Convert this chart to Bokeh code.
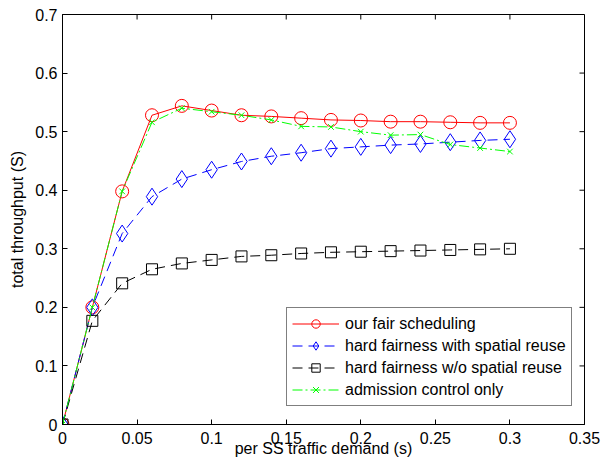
import math
from bokeh.plotting import figure
from bokeh.models import FixedTicker, Range1d, Legend, LegendItem
from bokeh.embed import file_html
from bokeh.resources import INLINE

# ---- data ----
demand = [0, 0.02, 0.04, 0.06, 0.08, 0.10, 0.12, 0.14, 0.16, 0.18,
          0.20, 0.22, 0.24, 0.26, 0.28, 0.30]
fair_sched = [0, 0.200, 0.398, 0.528, 0.544, 0.536, 0.528, 0.526, 0.523,
              0.520, 0.519, 0.517, 0.517, 0.516, 0.515, 0.515]
hard_reuse = [0, 0.200, 0.326, 0.389, 0.419, 0.435, 0.449, 0.458, 0.464,
              0.471, 0.474, 0.477, 0.479, 0.482, 0.485, 0.487]
hard_noreuse = [0, 0.177, 0.241, 0.265, 0.275, 0.281, 0.287, 0.289, 0.292,
                0.294, 0.295, 0.296, 0.297, 0.298, 0.299, 0.300]
admission = [0, 0.200, 0.398, 0.516, 0.540, 0.534, 0.528, 0.520, 0.509,
             0.508, 0.500, 0.494, 0.495, 0.478, 0.472, 0.466]

series_names = ["our fair scheduling", "hard fairness with spatial reuse",
                "hard fairness w/o spatial reuse", "admission control only"]

x_ticks = [0, 0.05, 0.1, 0.15, 0.2, 0.25, 0.3, 0.35]
x_tick_labels = ["0", "0.05", "0.1", "0.15", "0.2", "0.25", "0.3", "0.35"]
y_ticks = [0, 0.1, 0.2, 0.3, 0.4, 0.5, 0.6, 0.7]
y_tick_labels = ["0", "0.1", "0.2", "0.3", "0.4", "0.5", "0.6", "0.7"]

FONT = "Liberation Sans"
FS = "16px"

p = figure(width=604, height=462, output_backend="svg", toolbar_location=None,
           x_range=Range1d(x_ticks[0], x_ticks[-1]),
           y_range=Range1d(y_ticks[0], y_ticks[-1]),
           min_border_left=62, min_border_right=20, min_border_top=14,
           min_border_bottom=38, x_axis_label="per SS traffic demand (s)",
           y_axis_label="total throughput (S)")
p.grid.visible = False
p.outline_line_color = "black"
p.outline_line_width = 1
p.background_fill_color = "white"
p.border_fill_color = "white"


def style_axis(ax, ticks, labels):
    ax.ticker = FixedTicker(ticks=ticks)
    ax.major_label_overrides = {t: l for t, l in zip(ticks, labels)}
    ax.axis_line_color = "black"
    ax.major_tick_line_color = "black"
    ax.major_tick_in = 5
    ax.major_tick_out = 0
    ax.minor_tick_line_color = None
    ax.major_label_text_font = FONT
    ax.major_label_text_font_size = FS
    ax.major_label_text_color = "black"
    ax.axis_label_text_font = FONT
    ax.axis_label_text_font_size = FS
    ax.axis_label_text_font_style = "normal"
    ax.axis_label_text_color = "black"


style_axis(p.xaxis[0], x_ticks, x_tick_labels)
style_axis(p.yaxis[0], y_ticks, y_tick_labels)
p.xaxis[0].major_label_standoff = 7
p.xaxis[0].axis_label_standoff = -7
p.yaxis[0].major_label_standoff = 5
p.yaxis[0].axis_label_standoff = 6

# inward ticks on the top and right edges of the box (MATLAB style)
p.ray(x=x_ticks, y=[y_ticks[-1]] * len(x_ticks), length=5,
      length_units="screen", angle=-math.pi / 2, line_color="black",
      line_width=1)
p.ray(x=[x_ticks[-1]] * len(y_ticks), y=y_ticks, length=5,
      length_units="screen", angle=math.pi, line_color="black",
      line_width=1)

# ---- series ----
r1l = p.line(demand, fair_sched, line_color="#ff0000", line_width=1)
r1m = p.scatter(demand, fair_sched, marker="circle", size=13,
                line_color="#ff0000", fill_color=None, line_width=1)

r2l = p.line(demand, hard_reuse, line_color="#0000ff", line_width=1,
             line_dash="10 6")
r2m = p.scatter(demand, hard_reuse, marker="diamond", size=17,
                line_color="#0000ff", fill_color=None, line_width=1)

r3l = p.line(demand, hard_noreuse, line_color="black", line_width=1,
             line_dash="10 6")
r3m = p.scatter(demand, hard_noreuse, marker="square", size=11,
                line_color="black", fill_color=None, line_width=1)

r4l = p.line(demand, admission, line_color="#00ff00", line_width=1,
             line_dash="10 3 2 3")
r4m = p.scatter(demand, admission, marker="x", size=8,
                line_color="#00ff00", line_width=1)

legend = Legend(items=[
    LegendItem(label=series_names[0], renderers=[r1l, r1m]),
    LegendItem(label=series_names[1], renderers=[r2l, r2m]),
    LegendItem(label=series_names[2], renderers=[r3l, r3m]),
    LegendItem(label=series_names[3], renderers=[r4l, r4m]),
], location=(224, 18))
legend.label_text_font = FONT
legend.label_text_font_size = FS
legend.label_text_color = "black"
legend.glyph_width = 47
legend.glyph_height = 21
legend.label_height = 20
legend.label_standoff = 6
legend.spacing = 1
legend.padding = 5
legend.margin = 0
legend.border_line_color = "black"
legend.border_line_width = 1
legend.background_fill_color = "white"
legend.background_fill_alpha = 1
p.add_layout(legend, "center")

open("out.html", "w").write(file_html(p, INLINE))
